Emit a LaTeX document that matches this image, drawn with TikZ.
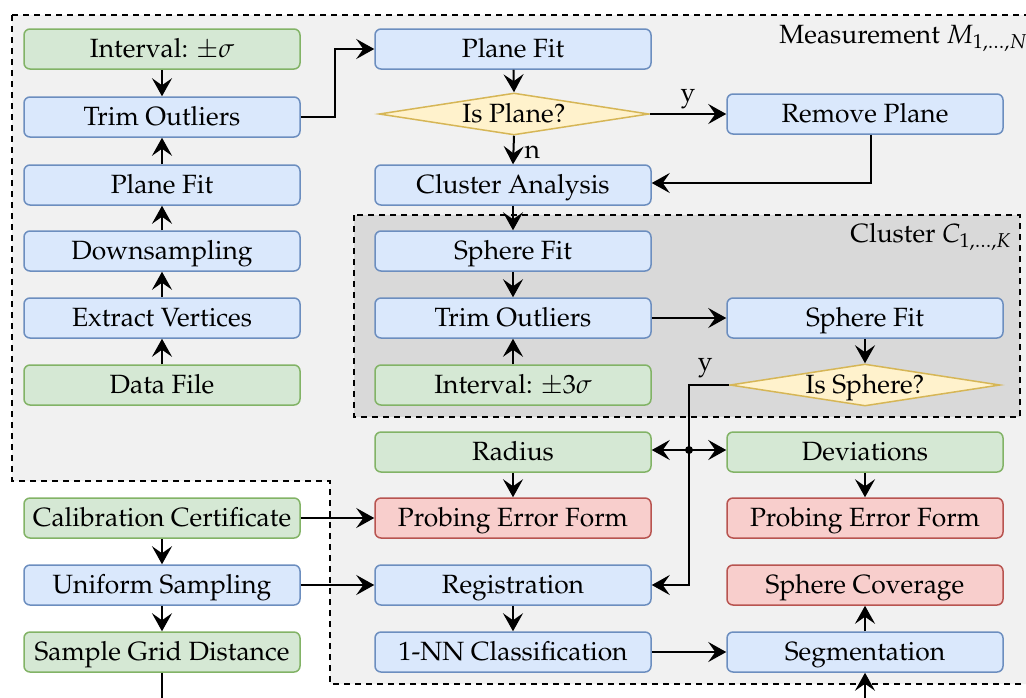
\documentclass[tikz,border=0pt]{standalone}
\usepackage[T1]{fontenc}
\usepackage{mathpazo}
\usetikzlibrary{shapes.geometric,arrows.meta}
\definecolor{bluef}{HTML}{DAE8FC}\definecolor{blued}{HTML}{6C8EBF}
\definecolor{greenf}{HTML}{D5E8D4}\definecolor{greend}{HTML}{82B366}
\definecolor{redf}{HTML}{F8CECC}\definecolor{redd}{HTML}{B85450}
\definecolor{yelf}{HTML}{FFF2CC}\definecolor{yeld}{HTML}{D6B656}
\definecolor{bgout}{HTML}{F1F1F1}\definecolor{bgin}{HTML}{D9D9D9}
\begin{document}
\begin{tikzpicture}[x=0.5pt,y=-0.5pt,
  font=\fontsize{13.2}{16}\selectfont,
  box/.style={rectangle,rounded corners=3pt,line width=0.75pt,minimum width=138pt,minimum height=20pt,inner sep=0pt,text height=10pt,text depth=2pt},
  bbox/.style={box,fill=bluef,draw=blued},
  gbox/.style={box,fill=greenf,draw=greend},
  rbox/.style={box,fill=redf,draw=redd},
  dbox/.style={diamond,aspect=6.4,inner sep=0pt,minimum width=135pt,minimum height=21pt,fill=yelf,draw=yeld,line width=0.75pt},
  dlab/.style={text height=10pt,text depth=2pt,inner sep=0pt},
  arr/.style={line width=1pt,-{Stealth[length=9pt,width=10pt,inset=3.5pt]}},
  dbl/.style={line width=1pt,{Stealth[length=9pt,width=10pt,inset=3.5pt]}-{Stealth[length=9pt,width=10pt,inset=3.5pt]}},
  ln/.style={line width=1pt},
  region/.style={dashed,dash pattern=on 3pt off 2.5pt,line width=0.8pt}]
\useasboundingbox (0,0) rectangle (1026,697);
% regions
\draw[region,fill=bgout] (12,15) -- (1040,15) -- (1040,684) -- (330,684) -- (330,481) -- (12,481) -- cycle;
\draw[region,fill=bgin] (354,215) rectangle (1020,417);
\node[anchor=west,inner sep=0pt] (mlab) at (779,38) {Measurement $M_{1,\ldots,N}$};
\node[anchor=west,inner sep=0pt] (clab) at (850,237) {Cluster $C_{1,\ldots,K}$};
% left column
\node[gbox] (int1) at (162,49) {Interval: $\pm\sigma$};
\node[bbox] (trim1) at (162,117) {Trim Outliers};
\node[bbox] (pf1) at (162,185) {Plane Fit};
\node[bbox] (down) at (162,251) {Downsampling};
\node[bbox] (extr) at (162,318) {Extract Vertices};
\node[gbox] (data) at (162,385) {Data File};
\node[gbox] (calib) at (162,518) {Calibration Certificate};
\node[bbox] (unif) at (162,585) {Uniform Sampling};
\node[gbox] (grid) at (162,652) {Sample Grid Distance};
% middle column
\node[bbox] (pf2) at (513,49) {Plane Fit};
\node[dbox] (isplane) at (514,114) {};
\node[dlab] (isplanet) at (isplane.center) {Is Plane?};
\node[bbox] (clus) at (513,185) {Cluster Analysis};
\node[bbox] (sf1) at (513,251) {Sphere Fit};
\node[bbox] (trim2) at (513,318) {Trim Outliers};
\node[gbox] (int2) at (513,385) {Interval: $\pm3\sigma$};
\node[gbox] (rad) at (513,452) {Radius};
\node[rbox] (pef1) at (513,518) {Probing Error Form};
\node[bbox] (reg) at (513,585) {Registration};
\node[bbox] (nn) at (513,652) {1-NN Classification};
% right column
\node[bbox] (remp) at (865,114) {Remove Plane};
\node[bbox] (sf2) at (865,318) {Sphere Fit};
\node[dbox] (issph) at (865,385) {};
\node[dlab] (isspht) at (issph.center) {Is Sphere?};
\node[gbox] (dev) at (865,452) {Deviations};
\node[rbox] (pef2) at (865,518) {Probing Error Form};
\node[rbox] (cov) at (865,585) {Sphere Coverage};
\node[bbox] (seg) at (865,652) {Segmentation};
% coordinates
\coordinate (jn) at (689,450);
\coordinate (gridend) at (162,710);
\coordinate (segstart) at (865,710);
% edges
\draw[arr] (int1) -- (trim1);
\draw[arr] (pf1) -- (trim1);
\draw[arr] (down) -- (pf1);
\draw[arr] (extr) -- (down);
\draw[arr] (data) -- (extr);
\draw[arr] (trim1.east) -- ++(34,0) |- (pf2.west);
\draw[arr] (pf2) -- (isplane.north);
\draw[arr] (isplane.east) -- node[above,inner sep=2pt]{y} (remp.west);
\draw[arr] (isplane.south) -- node[right,inner sep=5pt,yshift=-1pt]{n} (clus.north);
\draw[arr] ([xshift=3pt]remp.south) |- ([yshift=1pt]clus.east);
\draw[arr] (clus) -- (sf1);
\draw[arr] (sf1) -- (trim2);
\draw[arr] (int2) -- (trim2);
\draw[arr] (trim2) -- (sf2);
\draw[arr] (sf2) -- (issph.north);
\draw[arr] (issph.west) -| node[pos=0.3,above,inner sep=3pt]{y} (jn) |- (reg.east);
\draw[dbl] (rad.east |- jn) -- (dev.west |- jn);
\fill (jn) circle (2pt);
\draw[arr] (rad) -- (pef1);
\draw[arr] (dev) -- (pef2);
\draw[arr] (calib) -- (pef1);
\draw[arr] (calib) -- (unif);
\draw[arr] (unif) -- (grid);
\draw[arr] (unif) -- (reg);
\draw[arr] (reg) -- (nn);
\draw[arr] (nn) -- (seg);
\draw[arr] (seg) -- (cov);
\draw[ln] (grid.south) -- (gridend);
\draw[arr] (segstart) -- (seg.south);
\end{tikzpicture}
\end{document}
